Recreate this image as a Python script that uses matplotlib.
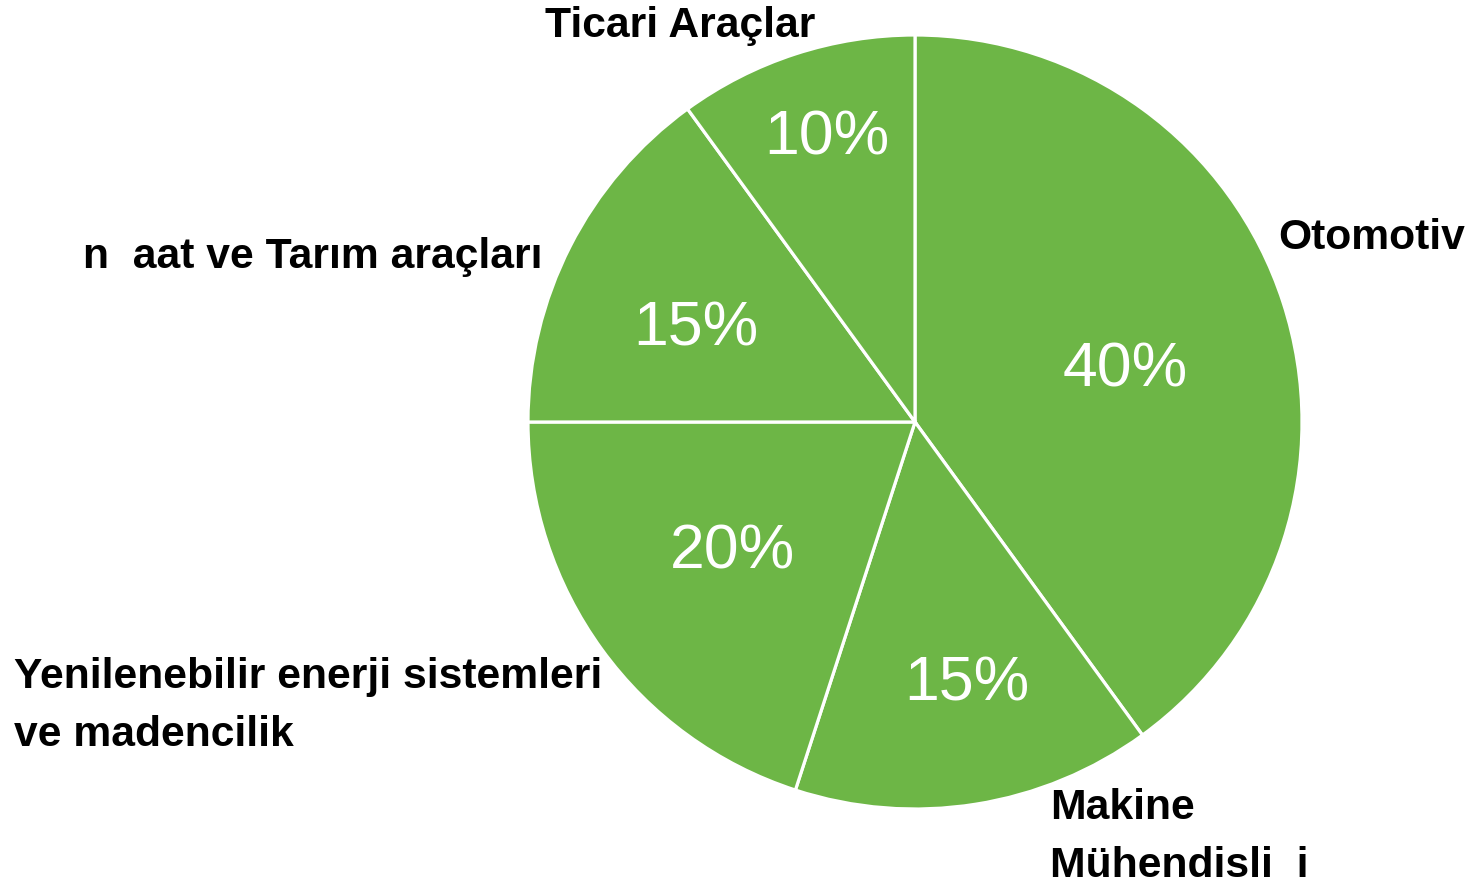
import matplotlib
matplotlib.use("Agg")
import matplotlib.pyplot as plt
import numpy as np

categories = ["Otomotiv", "Makine\nMühendisli  i", "Yenilenebilir enerji sistemleri\nve madencilik",
              "n  aat ve Tarım araçları", "Ticari Araçlar"]
values = [40, 15, 20, 15, 10]
pct_labels = ["40%", "15%", "20%", "15%", "10%"]

# per-label placement (style); y = baseline of last line, in pixels from top
pct_dist = [0.563, 0.675, 0.571, 0.621, 0.782]
pct_dang = [-2.6, 2.5, -1.9, 2.7, -1.1]
label_pos = [(1278, 249, 'left'), (1050, 877, 'left'), (14, 746, 'left'),
             (543, 268, 'right'), (815, 37, 'right')]

W, H = 1469, 886
fig = plt.figure(figsize=(W / 100, H / 100), dpi=100)
ax = fig.add_axes([0, 0, 1, 1])
ax.axis('off')

cx, cy, R = 915, H - 422, 387
wedges, _ = ax.pie(values, startangle=90, counterclock=False, center=(cx, cy), radius=R,
                   colors=['#6db646'] * len(values),
                   wedgeprops=dict(edgecolor='white', linewidth=2.3))
ax.set_xlim(0, W)
ax.set_ylim(0, H)
ax.set_aspect('equal')

pct_fs = 45
digit_h = 0.716 * pct_fs * 100 / 72
for w, lab, d, da in zip(wedges, pct_labels, pct_dist, pct_dang):
    ang = np.deg2rad((w.theta1 + w.theta2) / 2 + da)
    x = cx + d * R * np.cos(ang)
    y = cy + d * R * np.sin(ang) - digit_h / 2
    ax.text(x, y, lab, ha='center', va='baseline', color='white', fontsize=pct_fs,
            family='Liberation Sans')

for lab, (x, y, ha) in zip(categories, label_pos):
    ax.text(x, H - y, lab, ha=ha, va='baseline', fontsize=30.7, fontweight='bold',
            family='Liberation Sans', color='black', linespacing=1.58)

fig.savefig("out.png", dpi=100)
